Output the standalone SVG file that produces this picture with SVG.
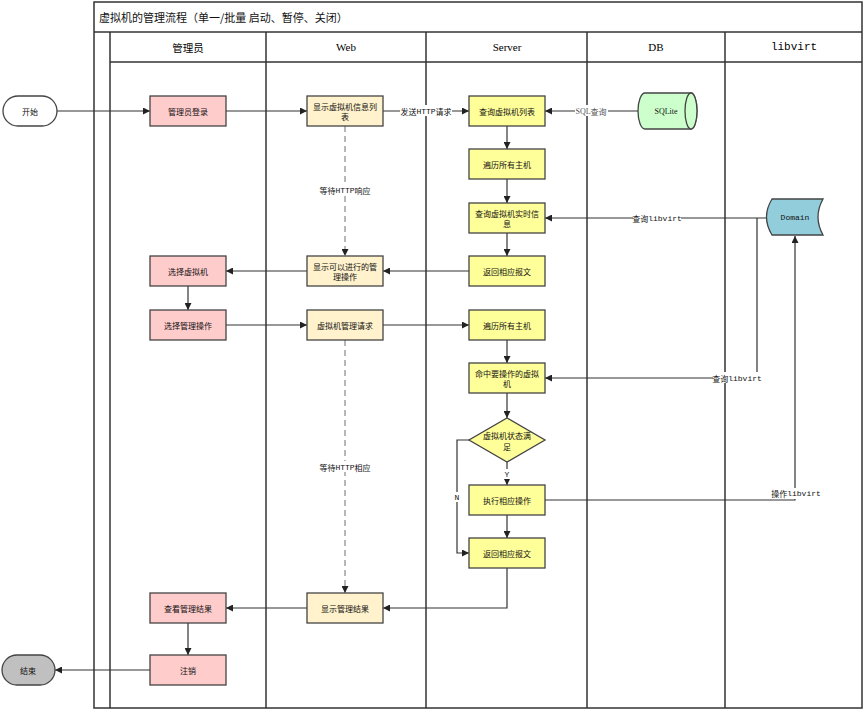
<svg xmlns="http://www.w3.org/2000/svg" width="865" height="711" viewBox="0 0 865 711">
<defs>
<marker id="arr" viewBox="0 0 10 10" refX="10" refY="5" markerWidth="7" markerHeight="7" orient="auto" markerUnits="userSpaceOnUse"><path d="M0,0 L10,5 L0,10 Z" fill="#222"/></marker>
<style>
.lane{fill:none;stroke:#333;stroke-width:1.5}
.box{stroke:#444;stroke-width:1.3}
.pink{fill:#ffcccc}
.cream{fill:#fff2cc}
.yel{fill:#ffff99}
.t{font-family:"Noto Sans CJK SC","Liberation Sans",sans-serif;font-size:8px;fill:#111;text-anchor:middle;dominant-baseline:central}
.lbl{font-family:"Liberation Mono","Noto Sans CJK SC",monospace;font-size:8px;fill:#111;text-anchor:middle;dominant-baseline:central}
.c{fill:none;stroke:#333;stroke-width:1.2;marker-end:url(#arr)}
.d{fill:none;stroke:#888;stroke-width:1.2;stroke-dasharray:6,4;marker-end:url(#arr)}
.bg{fill:#fff}
</style>
</defs>
<rect width="865" height="711" fill="#fff"/>
<g id="pool">
<rect class="lane" x="94" y="2" width="768" height="706"/>
<line class="lane" x1="94" y1="32" x2="862" y2="32"/>
<line class="lane" x1="110" y1="32" x2="110" y2="708"/>
<line class="lane" x1="110" y1="62" x2="862" y2="62"/>
<line class="lane" x1="266" y1="32" x2="266" y2="708"/>
<line class="lane" x1="426" y1="32" x2="426" y2="708"/>
<line class="lane" x1="587" y1="32" x2="587" y2="708"/>
<line class="lane" x1="725" y1="32" x2="725" y2="708"/>
<text x="99" y="17" font-family="Noto Sans CJK SC, sans-serif" font-size="11" dominant-baseline="central" fill="#111">虚拟机的管理流程（单一/批量 启动、暂停、关闭）</text>
<text x="188" y="47" font-family="Noto Sans CJK SC, sans-serif" font-size="10.5" text-anchor="middle" dominant-baseline="central">管理员</text>
<text x="346" y="47" font-family="Liberation Serif, serif" font-size="11" text-anchor="middle" dominant-baseline="central">Web</text>
<text x="507" y="47" font-family="Liberation Serif, serif" font-size="11" text-anchor="middle" dominant-baseline="central">Server</text>
<text x="656" y="47" font-family="Liberation Serif, serif" font-size="11" text-anchor="middle" dominant-baseline="central">DB</text>
<text x="794" y="47" font-family="Liberation Mono, monospace" font-size="11" text-anchor="middle" dominant-baseline="central">libvirt</text>
</g>
<g id="connectors">
<path class="c" d="M57,111 H150"/>
<path class="c" d="M226,111 H307"/>
<path class="c" d="M383,111 H469"/>
<rect class="bg" x="400" y="105" width="52" height="11"/>
<text class="lbl" x="426" y="111"><tspan font-family="Noto Sans CJK SC">发送</tspan>HTTP<tspan font-family="Noto Sans CJK SC">请求</tspan></text>
<path class="c" d="M638,111 H545"/>
<rect class="bg" x="575" y="105" width="33" height="11"/>
<text class="lbl" x="591" y="111" style="font-family:'Liberation Serif',serif;fill:#555">SQL<tspan style="font-family:'Noto Sans CJK SC',sans-serif">查询</tspan></text>
<path class="c" d="M507,126 V149"/>
<path class="c" d="M507,179 V203"/>
<path class="c" d="M768,218 H545"/>
<rect class="bg" x="633" y="212" width="48" height="11"/>
<text class="lbl" x="657" y="218"><tspan font-family="Noto Sans CJK SC">查询</tspan>libvirt</text>
<path class="c" d="M507,233 V256"/>
<path class="d" d="M345,126 V256"/>
<rect class="bg" x="318" y="184" width="55" height="11"/>
<text class="lbl" x="345" y="190"><tspan font-family="Noto Sans CJK SC">等待</tspan>HTTP<tspan font-family="Noto Sans CJK SC">响应</tspan></text>
<path class="c" d="M469,271 H383"/>
<path class="c" d="M307,271 H226"/>
<path class="c" d="M188,286 V310"/>
<path class="c" d="M226,325 H307"/>
<path class="c" d="M383,325 H469"/>
<path class="c" d="M507,340 V363"/>
<path class="c" d="M757,218 V378 H545"/>
<rect class="bg" x="713" y="372" width="48" height="11"/>
<text class="lbl" x="737" y="378"><tspan font-family="Noto Sans CJK SC">查询</tspan>libvirt</text>
<path class="c" d="M507,393 V418"/>
<path class="c" d="M507,462 V485"/>
<rect class="bg" x="503" y="469" width="8" height="10"/>
<text class="lbl" x="507" y="474" fill="#224">Y</text>
<path class="c" d="M469,440 H457 V553 H469"/>
<rect class="bg" x="453" y="492" width="8" height="10"/>
<text class="lbl" x="457" y="497" fill="#224">N</text>
<path class="c" d="M507,515 V538"/>
<path class="c" d="M545,500 H795 V236"/>
<rect class="bg" x="772" y="488" width="48" height="11"/>
<text class="lbl" x="796" y="493"><tspan font-family="Noto Sans CJK SC">操作</tspan>libvirt</text>
<path class="c" d="M507,568 V608 H383"/>
<path class="d" d="M345,340 V593"/>
<rect class="bg" x="318" y="461" width="55" height="11"/>
<text class="lbl" x="345" y="467"><tspan font-family="Noto Sans CJK SC">等待</tspan>HTTP<tspan font-family="Noto Sans CJK SC">相应</tspan></text>
<path class="c" d="M307,608 H226"/>
<path class="c" d="M188,623 V655"/>
<path class="c" d="M150,670 H55"/>
</g>
<g id="start"><rect class="box" x="3" y="96" width="54" height="30" rx="15" fill="#fff"/><text class="t" x="30" y="111">开始</text></g>
<g id="login"><rect class="box pink" x="150" y="96" width="76" height="30"/><text class="t" x="188" y="111">管理员登录</text></g>
<g id="showList"><rect class="box cream" x="307" y="96" width="76" height="30"/><text class="t" x="345" y="106">显示虚拟机信息列</text><text class="t" x="345" y="116">表</text></g>
<g id="queryList"><rect class="box yel" x="469" y="96" width="76" height="30"/><text class="t" x="507" y="111">查询虚拟机列表</text></g>
<g id="sqlite"><path class="box" fill="#ccffcc" d="M645,93 H691 A6,18 0 0 1 691,129 H645 A7,18 0 0 1 645,93 Z"/><ellipse class="box" fill="#ccffcc" cx="691" cy="111" rx="6" ry="18"/><text class="t" x="666" y="111" style="font-family:'Liberation Serif',serif">SQLite</text></g>
<g id="iterHosts1"><rect class="box yel" x="469" y="149" width="76" height="30"/><text class="t" x="507" y="164">遍历所有主机</text></g>
<g id="queryRealtime"><rect class="box yel" x="469" y="203" width="76" height="30"/><text class="t" x="507" y="213">查询虚拟机实时信</text><text class="t" x="507" y="223">息</text></g>
<g id="domain"><path class="box" fill="#92cddc" d="M772,199 H823 Q813,217 823,235 H772 Q761,217 772,199 Z"/><text class="lbl" x="795" y="217">Domain</text></g>
<g id="reply1"><rect class="box yel" x="469" y="256" width="76" height="30"/><text class="t" x="507" y="271">返回相应报文</text></g>
<g id="showOps"><rect class="box cream" x="307" y="256" width="76" height="30"/><text class="t" x="345" y="266">显示可以进行的管</text><text class="t" x="345" y="276">理操作</text></g>
<g id="selectVm"><rect class="box pink" x="150" y="256" width="76" height="30"/><text class="t" x="188" y="271">选择虚拟机</text></g>
<g id="selectOp"><rect class="box pink" x="150" y="310" width="76" height="30"/><text class="t" x="188" y="325">选择管理操作</text></g>
<g id="mgmtReq"><rect class="box cream" x="307" y="310" width="76" height="30"/><text class="t" x="345" y="325">虚拟机管理请求</text></g>
<g id="iterHosts2"><rect class="box yel" x="469" y="310" width="76" height="30"/><text class="t" x="507" y="325">遍历所有主机</text></g>
<g id="hitVm"><rect class="box yel" x="469" y="363" width="76" height="30"/><text class="t" x="507" y="373">命中要操作的虚拟</text><text class="t" x="507" y="383">机</text></g>
<g id="stateOk"><path class="box yel" d="M507,418 L545,440 L507,462 L469,440 Z"/><text class="t" x="507" y="435">虚拟机状态满</text><text class="t" x="507" y="446">足</text></g>
<g id="execOp"><rect class="box yel" x="469" y="485" width="76" height="30"/><text class="t" x="507" y="500">执行相应操作</text></g>
<g id="reply2"><rect class="box yel" x="469" y="538" width="76" height="30"/><text class="t" x="507" y="553">返回相应报文</text></g>
<g id="showResult"><rect class="box cream" x="307" y="593" width="76" height="30"/><text class="t" x="345" y="608">显示管理结果</text></g>
<g id="viewResult"><rect class="box pink" x="150" y="593" width="76" height="30"/><text class="t" x="188" y="608">查看管理结果</text></g>
<g id="logout"><rect class="box pink" x="150" y="655" width="76" height="30"/><text class="t" x="188" y="670">注销</text></g>
<g id="end"><rect class="box" x="2" y="655" width="53" height="30" rx="15" fill="#c0c0c0"/><text class="t" x="28" y="670">结束</text></g>
</svg>
